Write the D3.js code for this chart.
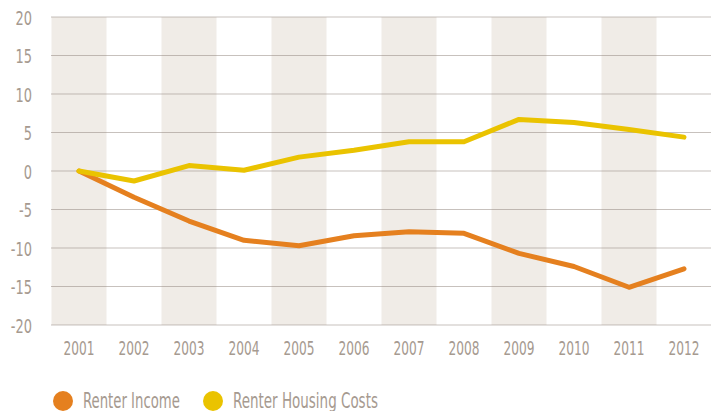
<!DOCTYPE html>
<html>
<head>
<meta charset="utf-8">
<script src="https://cdn.jsdelivr.net/npm/d3@7"></script>
<style>
  html, body { margin: 0; padding: 0; background: #fff; }
  svg { display: block; }
  text { font-family: "DejaVu Sans Condensed", "DejaVu Sans", sans-serif; fill: #a69a90; }
</style>
</head>
<body>
<svg id="chart" width="718" height="411"></svg>
<script>
// Percent change since 2001
const years = ["2001","2002","2003","2004","2005","2006","2007","2008","2009","2010","2011","2012"];
const renterIncome = [0, -3.4, -6.5, -9.0, -9.7, -8.4, -7.9, -8.1, -10.7, -12.4, -15.1, -12.7];
const renterHousingCosts = [0, -1.3, 0.7, 0.1, 1.8, 2.7, 3.8, 3.8, 6.7, 6.3, 5.4, 4.4];
const yTicks = [20, 15, 10, 5, 0, -5, -10, -15, -20];
const seriesNames = ["Renter Income", "Renter Housing Costs"];
const seriesColors = ["#e5801f", "#eac300"];

const svg = d3.select("#chart");
const plotLeft = 51.5, plotRight = 711.5, plotTop = 17, plotBottom = 325;

// Fit a label to a target width by squeezing it horizontally
function squeezeTo(sel, width, anchorShift) {
  sel.each(function() {
    const el = this;
    const w = el.getComputedTextLength();
    const s = Math.min(1, width / w);
    const base = d3.select(el).attr("data-base") || "";
    d3.select(el).attr("transform", `${base} scale(${s},1)`);
  });
}

const x = d3.scaleBand().domain(years).range([plotLeft, plotRight]).padding(0);
const y = d3.scaleLinear().domain([-20, 20]).range([plotBottom, plotTop]);

// Alternating shaded year columns
svg.append("g").selectAll("rect")
  .data(years.filter((d, i) => i % 2 === 0))
  .join("rect")
  .attr("x", d => x(d))
  .attr("y", plotTop)
  .attr("width", x.bandwidth())
  .attr("height", plotBottom - plotTop)
  .attr("fill", "#f0ece7");

// Dotted horizontal gridlines
svg.append("g").selectAll("line")
  .data(yTicks)
  .join("line")
  .attr("x1", plotLeft)
  .attr("x2", plotRight)
  .attr("y1", d => y(d))
  .attr("y2", d => y(d))
  .attr("stroke", "#8f837b")
  .attr("stroke-width", 1)
  .attr("stroke-dasharray", "1,1");

// Y axis labels
const yAxis = d3.axisLeft(y).tickValues(yTicks).tickSize(0).tickPadding(0)
  .tickFormat(d => d < 0 ? "-" + Math.abs(d) : String(d));
const yg = svg.append("g").attr("transform", "translate(32,0)").call(yAxis);
yg.select(".domain").remove();
yg.attr("font-family", null).attr("font-size", null);
yg.selectAll(".tick text")
  .attr("font-size", 20)
  .attr("fill", "#a69a90")
  .attr("x", 0)
  .attr("dy", "0.36em")
  .attr("transform", "scale(0.72,1)");

// X axis labels
const xAxis = d3.axisBottom(x).tickSize(0).tickPadding(0);
const xg = svg.append("g").attr("transform", `translate(0,${plotBottom + 30})`).call(xAxis);
xg.select(".domain").remove();
xg.attr("font-family", null).attr("font-size", null);
xg.selectAll(".tick text")
  .attr("font-size", 20)
  .attr("fill", "#a69a90")
  .attr("y", 0)
  .attr("dy", "0");
squeezeTo(xg.selectAll(".tick text"), 31);

// Series lines
const line = d3.line()
  .x((d, i) => x(years[i]) + x.bandwidth() / 2)
  .y(d => y(d));
[renterIncome, renterHousingCosts].forEach((vals, k) => {
  svg.append("path")
    .datum(vals)
    .attr("d", line)
    .attr("fill", "none")
    .attr("stroke", seriesColors[k])
    .attr("stroke-width", 5)
    .attr("stroke-linejoin", "round")
    .attr("stroke-linecap", "round");
});

// Legend
const legendX = [63, 213];
const legendW = [97, 145];
const lg = svg.append("g");
seriesNames.forEach((name, k) => {
  lg.append("circle")
    .attr("cx", legendX[k])
    .attr("cy", 401)
    .attr("r", 10)
    .attr("fill", seriesColors[k]);
  const t = lg.append("text")
    .attr("data-base", `translate(${legendX[k] + 20},408)`)
    .attr("font-size", 21)
    .attr("fill", "#a69a90")
    .text(name);
  squeezeTo(t, legendW[k]);
});
</script>
</body>
</html>
